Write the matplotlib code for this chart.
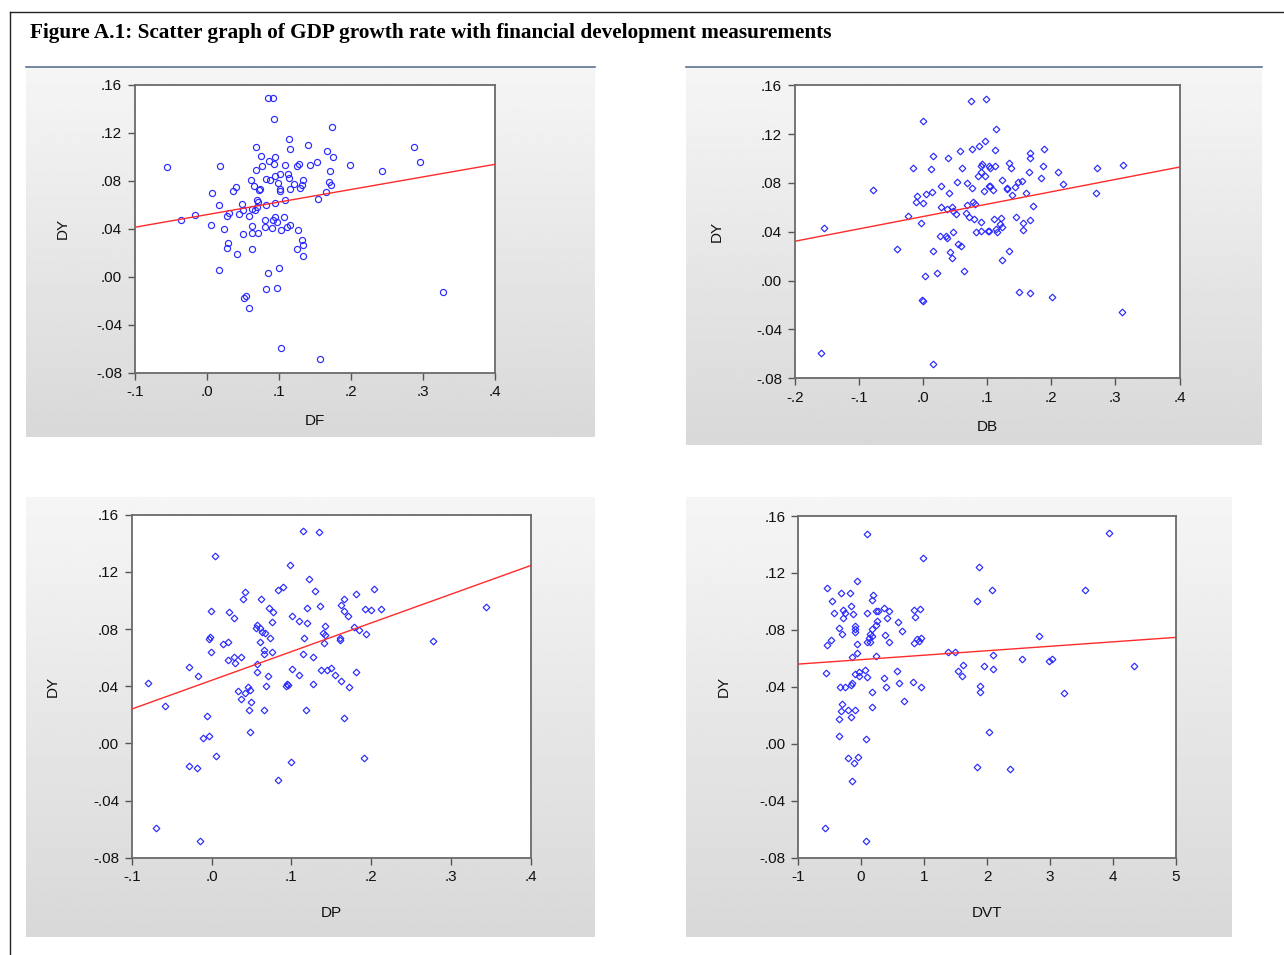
import numpy as np
import matplotlib
matplotlib.use("Agg")
import matplotlib.pyplot as plt
from matplotlib.lines import Line2D

# ---------------- data ----------------
df_x = [0.085,0.092,0.093,0.114,0.140,0.115,0.068,0.0745,0.095,0.086,-0.0555,0.018,0.077,0.0926,0.109,0.128,0.1255,0.1427,0.153,0.068,
        0.101,0.113,0.094,0.114,0.0824,0.0875,0.0615,0.134,0.099,0.121,0.066,0.040,0.036,0.072,0.0736,0.1014,0.115,0.129,0.132,0.1014,
        0.0077,0.0689,0.0708,0.108,0.154,0.0174,0.049,0.0824,0.094,0.0689,0.067,0.063,-0.017,0.0313,0.028,0.045,0.0508,0.059,-0.0364,0.081,
        0.094,0.0916,0.107,0.0977,0.0053,0.0239,0.0633,0.081,0.090,0.1116,0.115,0.1032,0.126,0.0633,0.0708,0.0503,0.132,0.1334,0.1255,0.134,
        0.030,0.0276,0.042,0.0624,0.0165,0.0847,0.0995,0.0824,0.0967,0.0513,0.055,0.058,0.1032,0.157,
        0.1729,0.1668,0.1752,0.1984,0.1705,0.2425,0.287,0.2954,0.169,0.172,0.1654,0.327]
df_y = [0.1486,0.1486,0.131,0.1147,0.1097,0.106,0.108,0.1006,0.100,0.0967,0.0911,0.0922,0.092,0.0939,0.0933,0.0939,0.092,0.0933,0.0958,0.0889,
        0.0858,0.0856,0.0839,0.0825,0.0817,0.0808,0.0808,0.0803,0.0778,0.0769,0.0756,0.0744,0.0717,0.0722,0.0731,0.0733,0.0728,0.0742,0.0764,0.071,
        0.0697,0.0639,0.062,0.0636,0.065,0.0597,0.0606,0.0597,0.0617,0.0583,0.0553,0.0561,0.0514,0.0533,0.0508,0.0519,0.0556,0.0508,0.0469,0.0472,
        0.0494,0.0472,0.050,0.0458,0.0428,0.0397,0.0422,0.0411,0.0406,0.0417,0.0433,0.0392,0.0392,0.0367,0.0367,0.0353,0.0306,0.0261,0.023,0.0175,
        0.0283,0.0239,0.0186,0.023,0.0053,0.0033,0.0075,-0.0103,-0.0097,-0.0178,-0.0161,-0.0258,-0.0597,-0.0686,
        0.1244,0.105,0.100,0.0933,0.0883,0.0883,0.1078,0.0953,0.0792,0.0767,0.0703,-0.013]

db_x = [0.0746,0.0985,0.0007,0.097,0.0876,0.076,0.057,0.0153,0.0387,0.0928,0.090,0.1037,-0.0154,0.0132,0.0605,0.0907,0.0865,0.097,0.0532,0.0694,
        0.0278,0.0767,-0.0783,0.0954,0.1037,0.0137,0.0054,0.0408,-0.0086,-0.0107,0.0007,0.0278,0.0382,0.046,0.0782,0.0818,0.0694,0.0465,0.0517,0.0673,
        0.0714,0.0803,0.0912,-0.0227,-0.1548,-0.003,0.0834,0.0912,0.1021,0.0475,0.0262,0.0356,0.0371,0.0553,0.059,-0.0409,0.0153,0.0418,0.046,0.0637,
        0.022,0.0028,-0.0008,-0.0005,-0.1584,0.0153,
        0.114,0.1125,0.1671,0.1671,0.1884,0.1344,0.138,0.1047,0.1125,0.165,0.1864,0.2103,0.1843,0.271,0.3117,0.124,0.1052,0.1089,0.1307,0.1318,
        0.1432,0.1396,0.1484,0.1547,0.1599,0.2191,0.270,0.1723,0.1453,0.1671,0.1557,0.111,0.1224,0.1203,0.1229,0.1141,0.1162,0.1032,0.1557,0.1349,
        0.124,0.1505,0.1671,0.2009,0.3096]
db_y = [0.1475,0.1486,0.131,0.1145,0.1104,0.1082,0.1058,0.1017,0.1006,0.0957,0.0943,0.0935,0.0919,0.0913,0.0921,0.0886,0.0853,0.0859,0.0812,0.0796,
        0.0774,0.0761,0.0739,0.0731,0.0772,0.0725,0.0712,0.0717,0.0695,0.0644,0.0638,0.0603,0.0589,0.060,0.0646,0.0624,0.0619,0.0567,0.0545,0.0551,
        0.0518,0.0502,0.048,0.0529,0.0428,0.0469,0.0396,0.0407,0.0407,0.0398,0.0368,0.0368,0.0352,0.0303,0.0284,0.0262,0.024,0.0232,0.0189,0.008,
        0.006,0.0036,-0.016,-0.0168,-0.0593,-0.068,
        0.1246,0.1066,0.1049,0.1005,0.108,0.0963,0.0925,0.0924,0.0935,0.0886,0.0935,0.0891,0.0839,0.092,0.0948,0.0825,0.0777,0.0739,0.0757,0.0753,
        0.0769,0.0701,0.0812,0.082,0.0717,0.0791,0.0717,0.0608,0.0524,0.0494,0.0472,0.0507,0.0515,0.0464,0.0437,0.0426,0.0398,0.0404,0.0415,0.024,
        0.0172,-0.0092,-0.010,-0.013,-0.0258]

dp_x = [0.1148,0.1346,0.0038,0.0979,0.1224,0.130,0.0827,0.089,0.0414,0.0388,0.0616,0.1194,0.1359,0.0717,0.0772,-0.0004,0.0219,0.0283,0.1008,0.1089,
        0.1194,0.0751,0.0565,0.0557,0.0612,0.0637,0.0671,0.0726,0.0603,0.1418,0.1401,0.1418,0.1405,0.1156,-0.0021,-0.0034,0.0143,0.0211,-0.0004,0.0658,
        0.0658,0.0755,0.0203,0.0295,0.0283,0.0363,0.1148,0.127,0.0565,0.057,-0.0278,-0.0173,0.0709,0.1008,0.1089,0.1371,0.1447,0.1498,0.0679,0.0941,
        0.0954,0.0937,0.127,-0.0793,0.0451,0.0329,0.0422,0.0477,0.0363,0.0498,0.0464,0.0662,0.1177,-0.0582,-0.0051,-0.011,-0.0034,0.0481,0.0055,-0.0278,
        -0.0186,0.0996,0.0827,-0.07,-0.0139,
        0.2038,0.1814,0.1662,0.1624,0.1662,0.1709,0.192,0.2,0.2118,0.3439,0.1785,0.184,0.1603,0.1603,0.1932,0.2768,0.154,0.1616,0.1722,0.1814,
        0.1662,0.1903]
dp_y = [0.1486,0.1479,0.1313,0.1248,0.1147,0.1068,0.1073,0.1096,0.1061,0.101,0.101,0.0945,0.0959,0.0949,0.0921,0.0923,0.0917,0.0879,0.0893,0.0858,
        0.0844,0.0851,0.0828,0.0807,0.0805,0.0781,0.077,0.0735,0.0711,0.0821,0.077,0.0758,0.0704,0.0737,0.0742,0.0728,0.0697,0.0707,0.0641,0.0653,
        0.0623,0.0641,0.0585,0.0562,0.0606,0.0606,0.0627,0.0606,0.0555,0.0501,0.0534,0.0469,0.0469,0.0518,0.0476,0.0511,0.0511,0.0529,0.0403,0.0417,
        0.0408,0.0401,0.0417,0.0424,0.0396,0.0366,0.0354,0.0371,0.0310,0.0287,0.0235,0.0235,0.0235,0.0263,0.0191,0.0040,0.0053,0.0079,-0.0089,-0.0161,
        -0.0175,-0.0133,-0.0254,-0.0595,-0.0681,
        0.1082,0.1047,0.1012,0.0968,0.0926,0.0889,0.094,0.0931,0.094,0.0954,0.0812,0.0793,0.0739,0.0723,0.0763,0.0714,0.0476,0.0438,0.0396,0.0497,
        0.0179,-0.0103]

dvt_x = [0.101,0.989,1.878,-0.0585,-0.532,-0.314,-0.181,-0.457,0.197,0.176,1.84,-0.282,-0.255,-0.287,-0.426,-0.16,-0.133,0.101,0.239,0.277,
         0.372,0.447,0.41,0.59,0.654,0.84,0.936,0.862,-0.351,-0.298,-0.101,-0.096,-0.101,0.25,0.234,0.17,0.144,0.128,0.101,0.144,
         0.176,0.388,0.447,-0.479,-0.532,-0.0585,0.894,0.92,0.947,0.84,-0.069,-0.138,0.245,1.383,1.495,1.622,1.532,1.606,1.947,-0.548,
         -0.09,-0.037,0.069,-0.032,0.09,0.574,0.372,0.394,0.606,0.83,0.957,-0.33,-0.255,-0.165,-0.138,0.17,0.176,0.686,1.883,1.894,
         -0.298,-0.319,-0.202,-0.09,-0.154,-0.346,-0.351,0.085,-0.207,-0.053,-0.117,-0.138,1.84,2.037,-0.569,0.085,
         2.08,3.548,3.941,2.819,2.096,2.096,2.548,2.989,3.037,4.34,3.218,2.367]
dvt_y = [0.1474,0.1307,0.1242,0.1141,0.1096,0.1057,0.1061,0.1005,0.1047,0.101,0.1005,0.0939,0.0921,0.0881,0.0919,0.0968,0.0909,0.0919,0.0933,0.0935,
         0.0954,0.0933,0.0881,0.0853,0.0794,0.0940,0.0947,0.0888,0.0811,0.0771,0.0825,0.0808,0.0785,0.0862,0.0834,0.0808,0.0769,0.0743,0.0717,0.0717,
         0.0757,0.0764,0.0715,0.0729,0.0694,0.0701,0.0738,0.0724,0.074,0.0706,0.0635,0.0607,0.0614,0.0642,0.0642,0.0556,0.0513,0.0478,0.0548,0.0497,
         0.0490,0.0506,0.0518,0.0476,0.0467,0.0513,0.0462,0.0396,0.0424,0.0431,0.0396,0.0396,0.0401,0.0413,0.0427,0.0366,0.0258,0.0303,0.0406,0.0366,
         0.0282,0.0230,0.0237,0.0237,0.0186,0.0171,0.0057,0.0036,-0.0103,-0.0096,-0.0133,-0.0262,-0.0161,0.008,-0.0594,-0.0683,
         0.1078,0.1078,0.1483,0.0759,0.0621,0.0527,0.0598,0.0584,0.0598,0.0548,0.0354,-0.0175]

# regression lines (intercept, slope)
fit_df = (0.0517, 0.105)
fit_db = (0.0525, 0.1013)
fit_dp = (0.0441, 0.201)
fit_dvt = (0.0591, 0.00313)

y_ticks = [0.16, 0.12, 0.08, 0.04, 0.00, -0.04, -0.08]
y_ticklabels = [".16", ".12", ".08", ".04", ".00", "-.04", "-.08"]
x_ticks_df = [-0.1, 0.0, 0.1, 0.2, 0.3, 0.4]
x_ticklabels_df = ["-.1", ".0", ".1", ".2", ".3", ".4"]
x_ticks_db = [-0.2, -0.1, 0.0, 0.1, 0.2, 0.3, 0.4]
x_ticklabels_db = ["-.2", "-.1", ".0", ".1", ".2", ".3", ".4"]
x_ticks_dvt = [-1, 0, 1, 2, 3, 4, 5]
x_ticklabels_dvt = ["-1", "0", "1", "2", "3", "4", "5"]

title = "Figure A.1: Scatter graph of GDP growth rate with financial development measurements"

# ---------------- figure ----------------
W, H = 1284, 955
fig = plt.figure(figsize=(W / 100, H / 100), dpi=100)
fig.patch.set_facecolor("white")

SANS = ["Liberation Sans", "DejaVu Sans"]

def px_rect(x0, y0, x1, y1):
    return [x0 / W, 1 - y1 / H, (x1 - x0) / W, (y1 - y0) / H]

def background(x0, y0, x1, y1, topline):
    bg = fig.add_axes(px_rect(x0, y0, x1, y1), zorder=0)
    grad = np.linspace(0.962, 0.848, 256).reshape(-1, 1)
    bg.imshow(grad, aspect="auto", cmap="gray", vmin=0, vmax=1,
              extent=[0, 1, 0, 1], interpolation="bilinear")
    bg.set_axis_off()
    if topline:
        fig.add_artist(Line2D([x0 / W, x1 / W], [1 - y0 / H, 1 - y0 / H],
                              color="#5b7392", lw=1.2))

def panel(rect, xs, ys, fit, xlim, xticks, xticklabels, xlabel, marker, ms,
          ylab_x, xlab_y):
    ax = fig.add_axes(px_rect(*rect), zorder=2)
    ax.set_facecolor("white")
    ax.set_xlim(*xlim)
    ax.set_ylim(-0.08, 0.16)
    ax.plot(xs, ys, linestyle="none", marker=marker, ms=ms, mfc="none",
            mec="#2a2aff", mew=0.85, zorder=3)
    xx = np.array(xlim, dtype=float)
    ax.plot(xx, fit[0] + fit[1] * xx, color="#ff2a2a", lw=1.0, zorder=4)
    ax.set_yticks(y_ticks)
    ax.set_yticklabels(y_ticklabels)
    ax.set_xticks(xticks)
    ax.set_xticklabels(xticklabels)
    ax.tick_params(axis="both", direction="out", length=5, width=1.0,
                   color="#555555", labelsize=11, labelcolor="#111111")
    ax.tick_params(axis="y", pad=4)
    ax.tick_params(axis="x", pad=4)
    for lab in ax.get_xticklabels() + ax.get_yticklabels():
        lab.set_family(SANS)
    for sp in ax.spines.values():
        sp.set_color("#6a6a6a")
        sp.set_linewidth(1.3)
    ax.text(ylab_x, 0.5, "DY", transform=ax.transAxes, rotation=90,
            ha="center", va="center", fontsize=11, family=SANS, color="#111111")
    ax.text(0.5, xlab_y, xlabel, transform=ax.transAxes,
            ha="center", va="center", fontsize=11, family=SANS, color="#111111")
    return ax

# backgrounds
background(26, 67, 595, 437, True)
background(686, 67, 1262, 445, True)
background(26, 497, 595, 937, False)
background(686, 497, 1232, 937, False)

panel((134.7, 84.7, 495.3, 372.7), df_x, df_y, fit_df, (-0.1, 0.4),
      x_ticks_df, x_ticklabels_df, "DF", "o", 4.4, -0.199, -0.168)
panel((794.7, 85.3, 1179.5, 378.3), db_x, db_y, fit_db, (-0.2, 0.4),
      x_ticks_db, x_ticklabels_db, "DB", "D", 3.4, -0.202, -0.166)
panel((131.7, 514.7, 531.0, 857.7), dp_x, dp_y, fit_dp, (-0.1, 0.4),
      x_ticks_df, x_ticklabels_df, "DP", "D", 3.4, -0.197, -0.161)
panel((798.0, 516.0, 1176.0, 857.7), dvt_x, dvt_y, fit_dvt, (-1, 5),
      x_ticks_dvt, x_ticklabels_dvt, "DVT", "D", 3.4, -0.196, -0.162)

# page frame lines
fig.add_artist(Line2D([10 / W, 10 / W], [1 - 12 / H, 0], color="#222222", lw=1.0))
fig.add_artist(Line2D([10 / W, 1], [1 - 12 / H, 1 - 12 / H], color="#222222", lw=1.0))

fig.text(30 / W, 1 - 33 / H, title, ha="left", va="center", fontsize=15.3,
         fontweight="bold", family=["Liberation Serif", "DejaVu Serif"], color="black")

fig.savefig("out.png", dpi=100, facecolor="white")
